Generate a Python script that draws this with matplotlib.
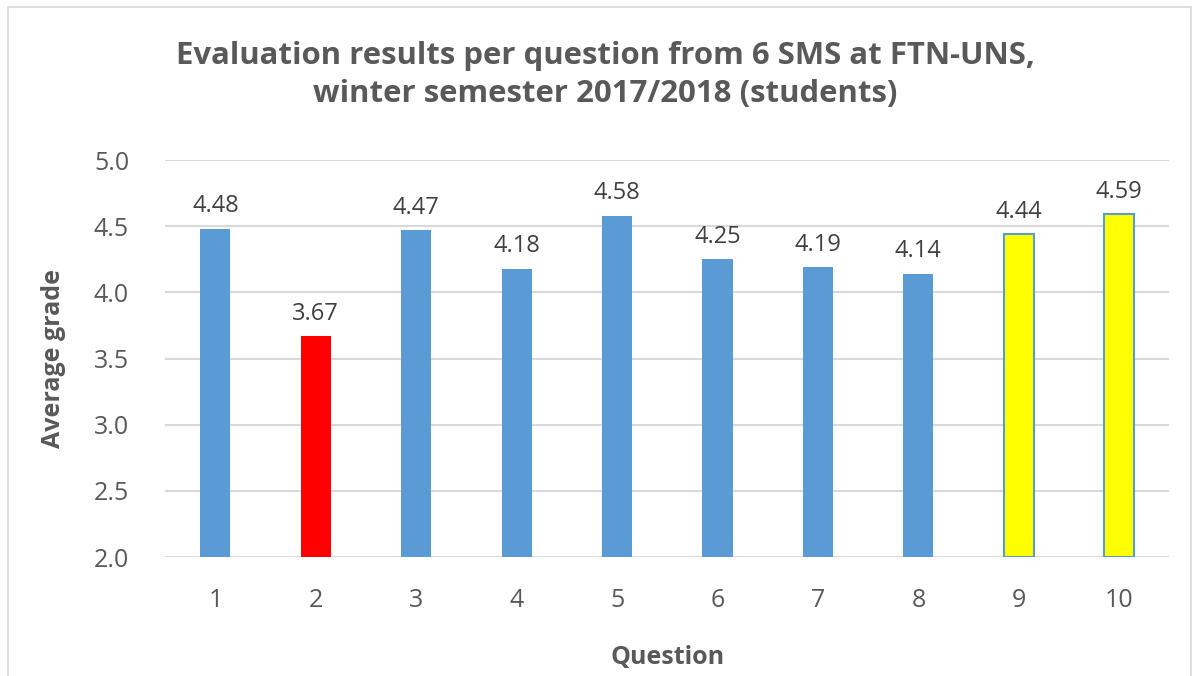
import matplotlib.pyplot as plt
from matplotlib.patches import Rectangle

questions = ["1", "2", "3", "4", "5", "6", "7", "8", "9", "10"]
grades = [4.48, 3.67, 4.47, 4.18, 4.58, 4.25, 4.19, 4.14, 4.44, 4.59]
fills = ["#5B9BD5", "#FF0000", "#5B9BD5", "#5B9BD5", "#5B9BD5",
         "#5B9BD5", "#5B9BD5", "#5B9BD5", "#FFFF00", "#FFFF00"]
edges = ["none", "none", "none", "none", "none",
         "none", "none", "none", "#5B9BD5", "#5B9BD5"]

plt.rcParams["font.family"] = ["Open Sans", "DejaVu Sans"]
text_color = "#595959"

fig = plt.figure(figsize=(11.97, 6.76), dpi=100)
ax = fig.add_axes([0.138, 0.176, 0.839, 0.587])

x = list(range(len(questions)))
bars = ax.bar(x, [g - 2.0 for g in grades], bottom=2.0, width=0.3,
              color=fills, edgecolor=edges, linewidth=1.5, zorder=3)

for xi, g in zip(x, grades):
    ax.text(xi, g + 0.08, f"{g:.2f}", ha="center", va="bottom",
            fontsize=17, color="#404040")

ax.set_xlim(-0.5, len(questions) - 0.5)
ax.set_ylim(2.0, 5.0)
ax.set_yticks([2.0, 2.5, 3.0, 3.5, 4.0, 4.5, 5.0])
ax.set_yticklabels(["2.0", "2.5", "3.0", "3.5", "4.0", "4.5", "5.0"])
ax.set_xticks(x)
ax.set_xticklabels(questions)
ax.tick_params(axis="y", length=0, labelsize=18, labelcolor=text_color, pad=26)
ax.tick_params(axis="x", length=0, labelsize=18, labelcolor=text_color, pad=22)
ax.grid(axis="y", color="#D9D9D9", linewidth=1.5, zorder=0)
for s in ax.spines.values():
    s.set_visible(False)

ax.set_xlabel("Question", fontsize=18, fontweight="bold", color=text_color, labelpad=23)
ax.set_ylabel("Average grade", fontsize=18, fontweight="bold", color=text_color, labelpad=20)

fig.text(0.506, 0.889, "Evaluation results per question from 6 SMS at FTN-UNS,\nwinter semester 2017/2018 (students)",
         ha="center", va="center", fontsize=22.4, fontweight="bold", color=text_color,
         linespacing=1.35)

fig.patches.append(Rectangle((0.007, -0.05), 0.988, 1.04, transform=fig.transFigure,
                             fill=False, edgecolor="#D9D9D9", linewidth=1.2))

fig.savefig("out.png", dpi=100)
